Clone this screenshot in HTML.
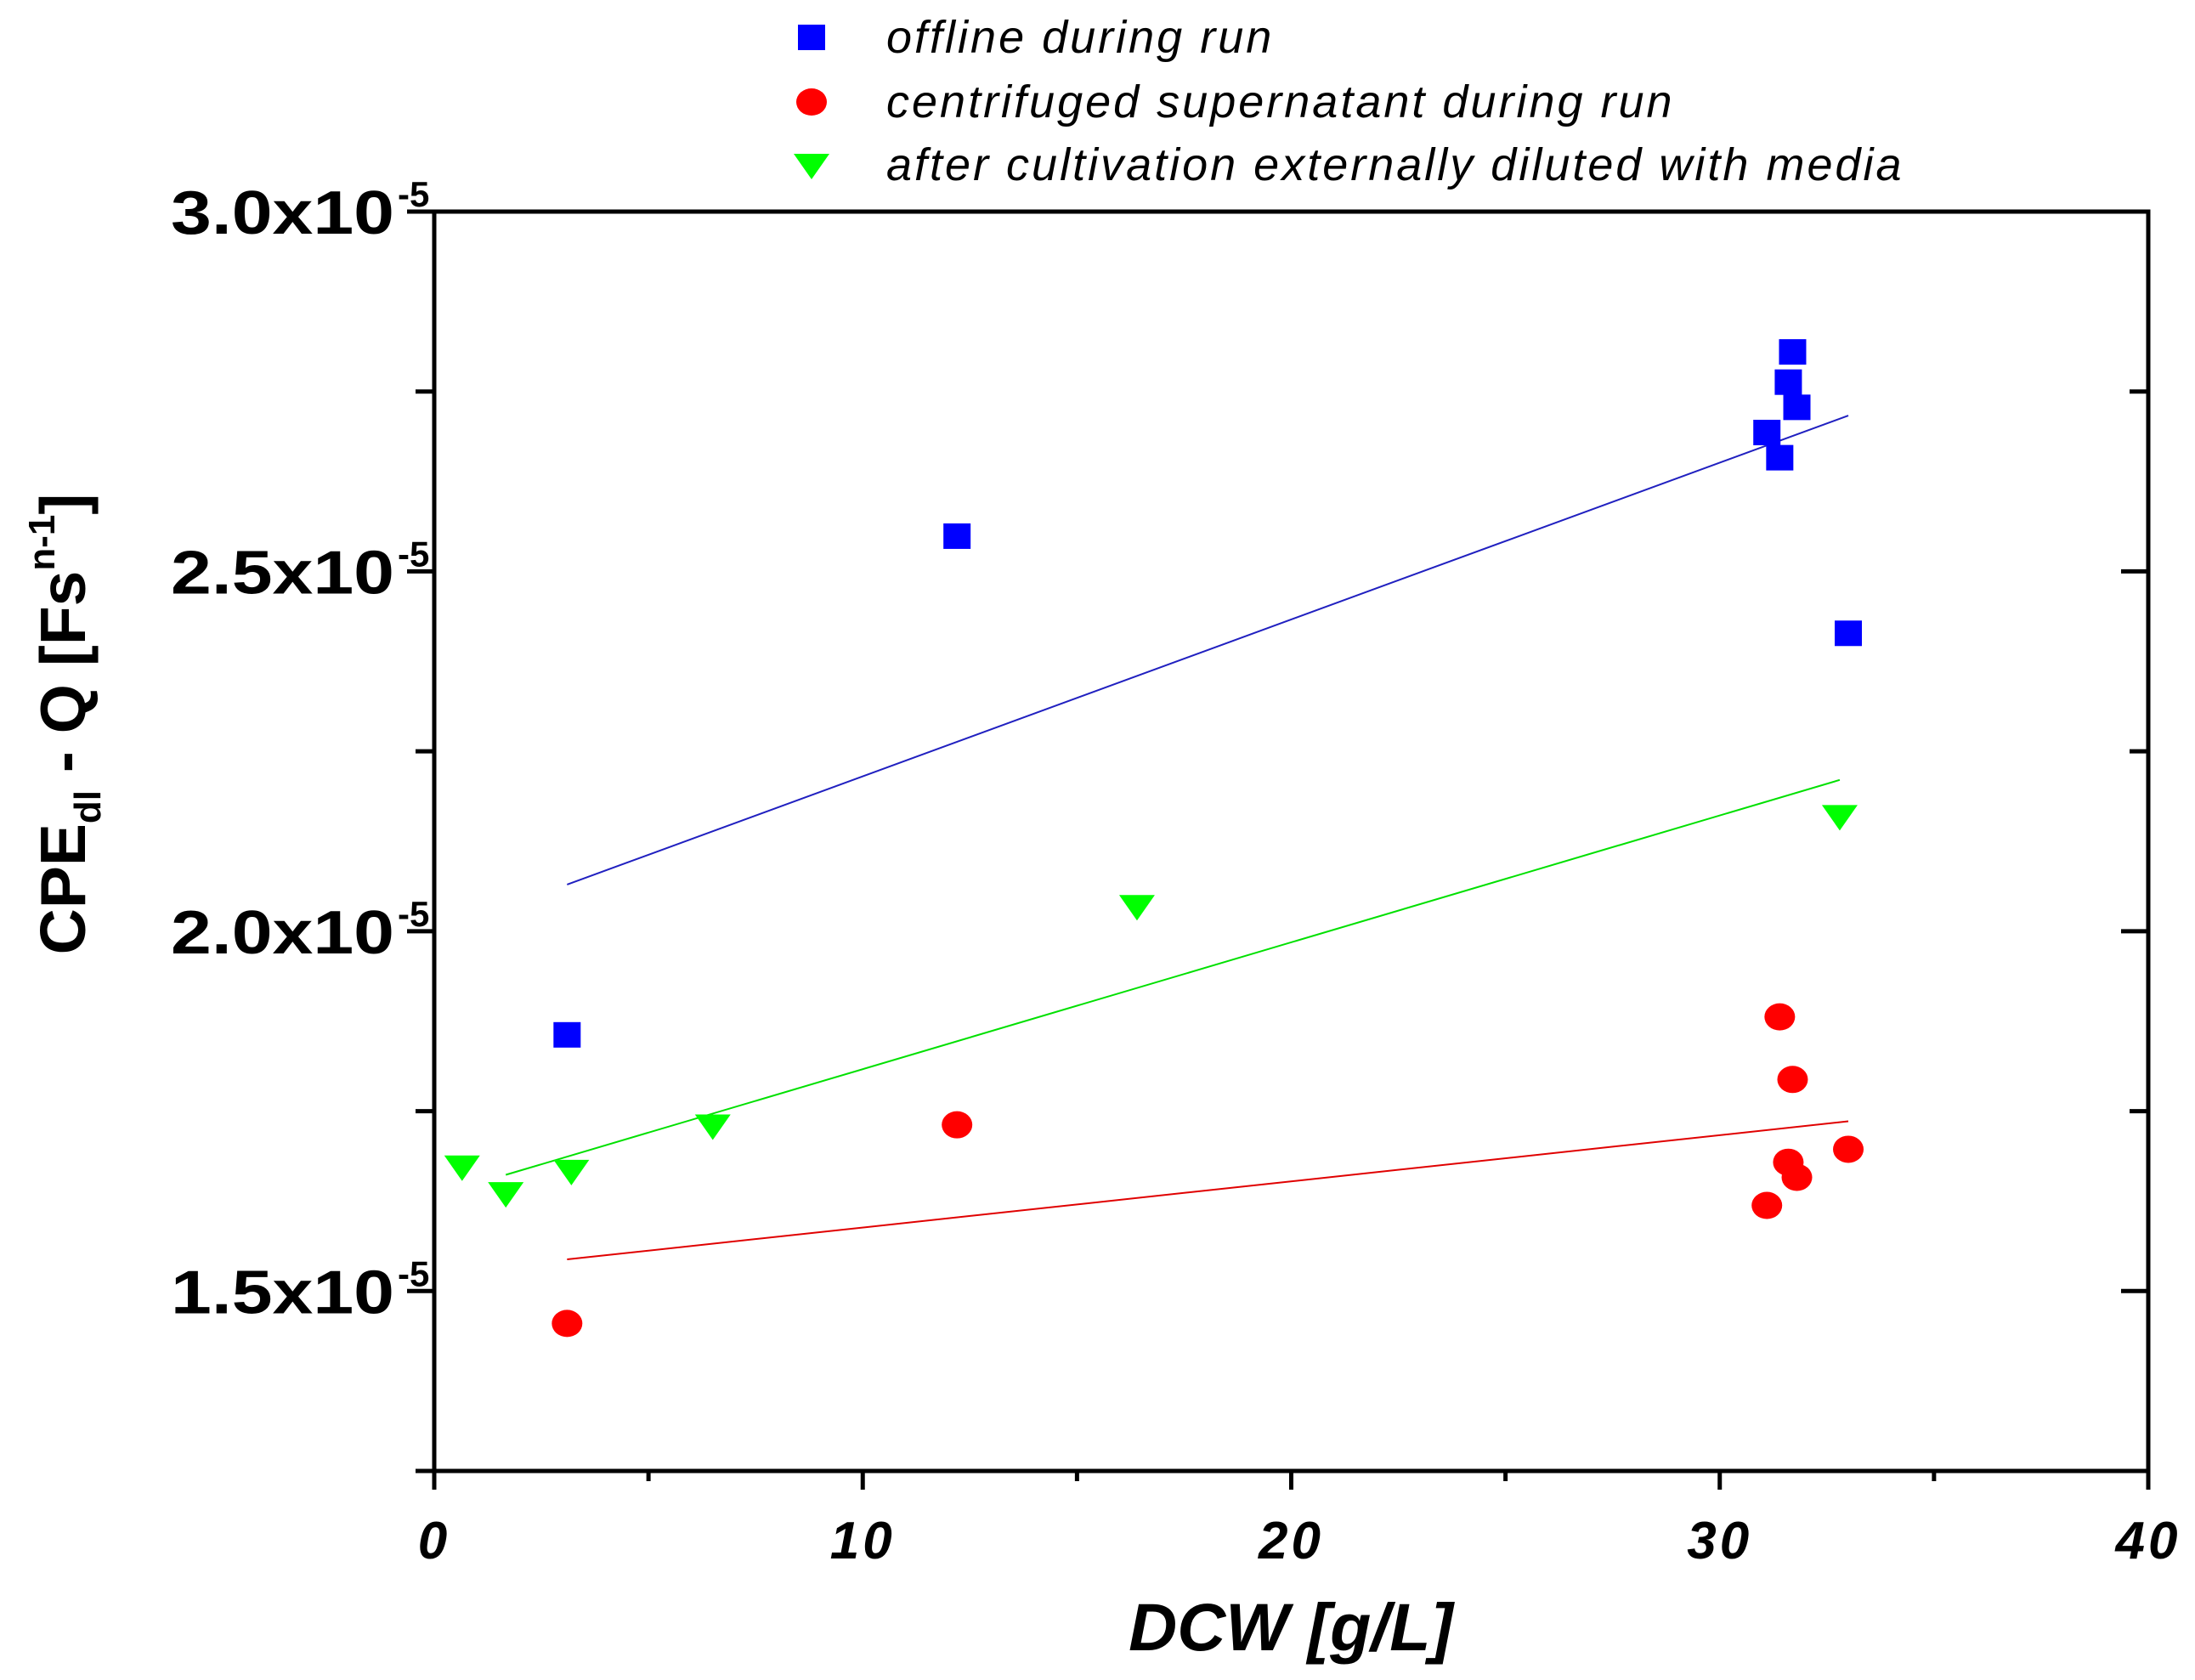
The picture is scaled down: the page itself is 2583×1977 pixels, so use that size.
<!DOCTYPE html>
<html><head><meta charset="utf-8"><style>
html,body{margin:0;padding:0;background:#fff;}
svg{display:block;}
text{font-family:"Liberation Sans",Arial,sans-serif;}
</style></head><body>
<svg id="chart" width="2583" height="1977" viewBox="0 0 2583 1977" xmlns="http://www.w3.org/2000/svg">
<g id="axes"></g>
<g id="fits"></g>
<g id="marks"></g>
<g id="legend"></g>
</svg>
<script>
const blueX=[3.1,12.2,31.1,31.4,31.6,31.8,31.7,33.0];
const blueY=[1.856,2.549,2.693,2.658,2.763,2.728,2.805,2.414];
const redX=[3.1,12.2,31.4,31.7,31.6,31.8,31.1,33.0];
const redY=[1.455,1.731,1.881,1.794,1.679,1.658,1.619,1.697];
const greenX=[0.65,1.67,3.2,6.5,16.4,32.8];
const greenY=[1.673,1.636,1.667,1.730,2.035,2.160];
const xTicks=[0,10,20,30,40];
const yTicks=[1.5,2.0,2.5,3.0];
const yTickLabels=["1.5x10","2.0x10","2.5x10","3.0x10"];
const legendLabels=["offline during run","centrifuged supernatant during run","after cultivation externally diluted with media"];

const NS="http://www.w3.org/2000/svg";
const L=511,R=2528,T=249,B=1731;
const xMin=0,xMax=40,yMin=1.25,yMax=3.0;
function sx(v){return L+(v-xMin)/(xMax-xMin)*(R-L);}
function sy(v){return B-(v-yMin)/(yMax-yMin)*(B-T);}
function mk(tag,attrs,parent){const e=document.createElementNS(NS,tag);for(const k in attrs)e.setAttribute(k,attrs[k]);parent.appendChild(e);return e;}
const axes=document.getElementById('axes');
const frame=mk('rect',{x:L,y:T,width:R-L,height:B-T,fill:'none',stroke:'#000','stroke-width':5},axes);


for(let v=1.25;v<=3.0001;v+=0.25){
  const major=Math.abs(v*2-Math.round(v*2))<1e-6;
  const len=major?32:22;
  const t=mk('line',{x1:L-len,x2:L,y1:sy(v),y2:sy(v),stroke:'#000','stroke-width':5},axes);
  
  
  const t2=mk('line',{x1:R-len,x2:R,y1:sy(v),y2:sy(v),stroke:'#000','stroke-width':5},axes);
  
  
}
yTicks.forEach((v,i)=>{
  const tx=mk('text',{x:201,y:sy(v)+26,'text-anchor':'start','font-size':72,'font-weight':'bold',textLength:263,lengthAdjust:'spacingAndGlyphs'},axes);
  tx.textContent=yTickLabels[i];
  
  
  const ex=mk('text',{x:468,y:sy(v)-6,'font-size':42,'font-weight':'bold'},axes);
  ex.textContent='-5';
  
  
});
for(let v=0;v<=40;v+=5){
  const major=v%10===0;
  const t=mk('line',{x1:sx(v),x2:sx(v),y1:B,y2:B+(major?22:12),stroke:'#000','stroke-width':5},axes);
  
  
}
xTicks.forEach(v=>{
  const tx=mk('text',{x:sx(v),y:1834,'text-anchor':'middle','font-size':62,'font-weight':'bold','font-style':'italic','letter-spacing':4},axes);
  tx.textContent=String(v);
  
  
});
const xt=mk('text',{x:1519,y:1942,'text-anchor':'middle','font-size':79,'font-weight':'bold','font-style':'italic'},axes);
xt.textContent='DCW [g/L]';


const yt=mk('text',{x:0,y:0,'text-anchor':'middle','font-size':75,'font-weight':'bold',transform:'translate(100,852) rotate(-90)'},axes);
yt.innerHTML='CPE<tspan dy="18" font-size="44">dl</tspan><tspan dy="-18"> - Q [Fs</tspan><tspan dy="-36" font-size="44">n-1</tspan><tspan dy="36">]</tspan>';



function fit(xs,ys,color,name){
  const n=xs.length;let mx=0,my=0;for(let i=0;i<n;i++){mx+=xs[i];my+=ys[i];}mx/=n;my/=n;
  let sxy=0,sxx=0;for(let i=0;i<n;i++){sxy+=(xs[i]-mx)*(ys[i]-my);sxx+=(xs[i]-mx)**2;}
  const b=sxy/sxx,a=my-b*mx;
  const x0=Math.min(...xs),x1=Math.max(...xs);
  const l=mk('line',{x1:sx(x0),y1:sy(a+b*x0),x2:sx(x1),y2:sy(a+b*x1),stroke:color,'stroke-width':2},document.getElementById('fits'));
  
  
}
fit(blueX,blueY,'#2020c0','fit-line-offline');
fit(greenX.slice(1),greenY.slice(1),'#00e000','fit-line-diluted');
fit(redX,redY,'#e00000','fit-line-supernatant');

const marks=document.getElementById('marks');
function square(cx,cy,p){return mk('rect',{x:cx-16,y:cy-15,width:32,height:30,fill:'#0000ff'},p);}
function circle(cx,cy,p){return mk('ellipse',{cx:cx,cy:cy,rx:18,ry:16,fill:'#ff0000'},p);}
function tri(cx,cy,p){return mk('polygon',{points:`${cx-21},${cy-13} ${cx+21},${cy-13} ${cx},${cy+17}`,fill:'#00ff00'},p);}
blueX.forEach((v,i)=>{const e=square(sx(v),sy(blueY[i]),marks);
  
  });
redX.forEach((v,i)=>{const e=circle(sx(v),sy(redY[i]),marks);
  
  });
greenX.forEach((v,i)=>{const e=tri(sx(v),sy(greenY[i]),marks);
  
  });

const leg=document.getElementById('legend');
const ly=[44,120,194];
const s1=square(955,ly[0],leg);


const c1=circle(955,ly[1],leg);


const t1=tri(955,ly[2],leg);


legendLabels.forEach((s,i)=>{
  const tx=mk('text',{x:1043,y:ly[i]+18,'font-size':54,'font-style':'italic','letter-spacing':3},leg);
  tx.textContent=s;
  
  
});
</script>
</body></html>
